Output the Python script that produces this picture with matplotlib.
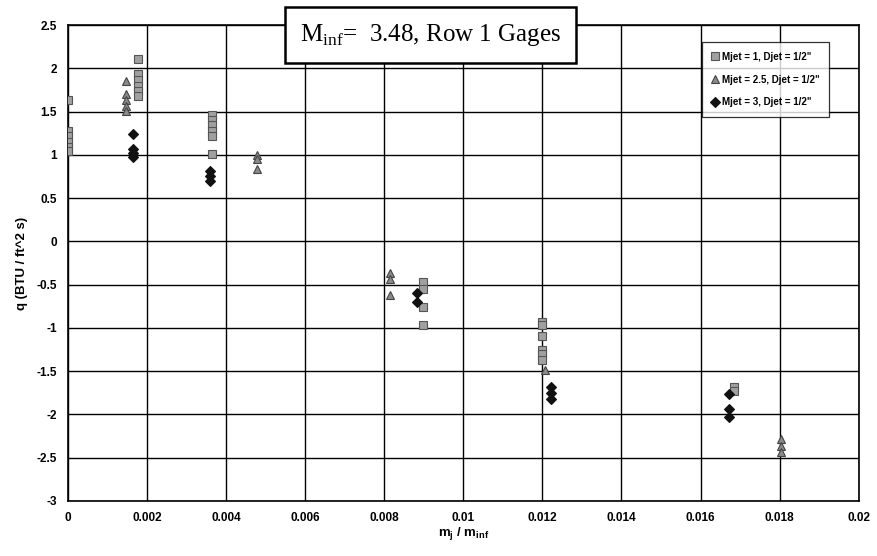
import matplotlib
matplotlib.use("Agg")
import matplotlib.pyplot as plt

plt.rcParams['font.family'] = ['Liberation Sans', 'DejaVu Sans']
plt.rcParams['mathtext.fontset'] = 'custom'
plt.rcParams['mathtext.rm'] = 'Liberation Serif'
plt.rcParams['mathtext.bf'] = 'Liberation Sans:bold'

# Mjet = 1
x_m1 = [0, 0, 0, 0, 0, 0,
        0.00176, 0.00176, 0.00176, 0.00176, 0.00176, 0.00176,
        0.00365, 0.00365, 0.00365, 0.00365, 0.00365, 0.00365,
        0.00897, 0.00897, 0.00897, 0.00897,
        0.0120, 0.0120, 0.0120, 0.0120, 0.0120, 0.0120,
        0.01685, 0.01685]
q_m1 = [1.63, 1.28, 1.22, 1.15, 1.09, 1.04,
        2.11, 1.93, 1.87, 1.80, 1.74, 1.68,
        1.46, 1.40, 1.34, 1.28, 1.22, 1.01,
        -0.47, -0.55, -0.76, -0.97,
        -0.93, -0.97, -1.09, -1.26, -1.30, -1.37,
        -1.68, -1.73]

# Mjet = 2.5
x_m25 = [0.00147, 0.00147, 0.00147, 0.00147, 0.00147,
         0.00479, 0.00479, 0.00479,
         0.00814, 0.00814, 0.00814,
         0.01206,
         0.01803, 0.01803, 0.01803]
q_m25 = [1.85, 1.70, 1.63, 1.56, 1.51,
         1.00, 0.95, 0.84,
         -0.37, -0.44, -0.62,
         -1.49,
         -2.28, -2.37, -2.43]

# Mjet = 3
x_m3 = [0.00165, 0.00165, 0.00165, 0.00165,
        0.0036, 0.0036, 0.0036,
        0.00882, 0.00882,
        0.01221, 0.01221, 0.01221,
        0.01672, 0.01672, 0.01672]
q_m3 = [1.24, 1.07, 1.02, 0.98,
        0.81, 0.75, 0.70,
        -0.60, -0.70,
        -1.68, -1.75, -1.82,
        -1.76, -1.94, -2.03]

x_ticks = [0, 0.002, 0.004, 0.006, 0.008, 0.01, 0.012, 0.014, 0.016, 0.018, 0.02]
x_tick_labels = ['0', '0.002', '0.004', '0.006', '0.008', '0.01', '0.012',
                 '0.014', '0.016', '0.018', '0.02']
y_ticks = [-3, -2.5, -2, -1.5, -1, -0.5, 0, 0.5, 1, 1.5, 2, 2.5]
y_tick_labels = ['-3', '-2.5', '-2', '-1.5', '-1', '-0.5', '0', '0.5', '1', '1.5', '2', '2.5']

fig = plt.figure(figsize=(8.78, 5.56), dpi=100)
ax = fig.add_axes([0.0774, 0.099, 0.9006, 0.856])

ax.plot(x_m1, q_m1, linestyle='none', marker='s', ms=5.5, mfc='#a0a0a0',
        mec='#555555', mew=0.8, label='Mjet = 1, Djet = 1/2"', zorder=3)
ax.plot(x_m25, q_m25, linestyle='none', marker='^', ms=6, mfc='#8a8a8a',
        mec='#444444', mew=0.8, label='Mjet = 2.5, Djet = 1/2"', zorder=3)
ax.plot(x_m3, q_m3, linestyle='none', marker='D', ms=5, mfc='#111111',
        mec='#111111', mew=0.8, label='Mjet = 3, Djet = 1/2"', zorder=3)

ax.set_xlim(0, 0.02)
ax.set_ylim(-3, 2.5)
ax.set_xticks(x_ticks)
ax.set_xticklabels(x_tick_labels)
ax.set_yticks(y_ticks)
ax.set_yticklabels(y_tick_labels)
ax.tick_params(length=0, labelsize=8.5, pad=8)
for lab in ax.get_xticklabels() + ax.get_yticklabels():
    lab.set_fontweight('bold')

ax.grid(True, color='black', linewidth=1.0)
ax.set_axisbelow(True)
for s in ax.spines.values():
    s.set_color('black')
    s.set_linewidth(1.2)

ax.set_xlabel(r'm$_\mathbf{j}$ / m$_\mathbf{inf}$', fontsize=9.5, fontweight='bold', labelpad=1)
ax.set_ylabel('q (BTU / ft^2 s)', fontsize=9.5, fontweight='bold', labelpad=6)

fig.text(0.4903, 0.937, r'M$_{\mathrm{inf}}$=  3.48, Row 1 Gages', ha='center', va='center',
         fontsize=18, family='Liberation Serif',
         bbox=dict(boxstyle='square,pad=0.6', facecolor='white', edgecolor='black', linewidth=1.8))

leg = ax.legend(loc='upper right', bbox_to_anchor=(0.963, 0.964),
                prop={'weight': 'bold', 'size': 7}, frameon=True, fancybox=False,
                edgecolor='black', borderpad=1.0, labelspacing=1.3,
                handlelength=0.8, handletextpad=0.3, borderaxespad=0)
leg.get_frame().set_linewidth(0.9)

fig.savefig('out.png', dpi=100)
